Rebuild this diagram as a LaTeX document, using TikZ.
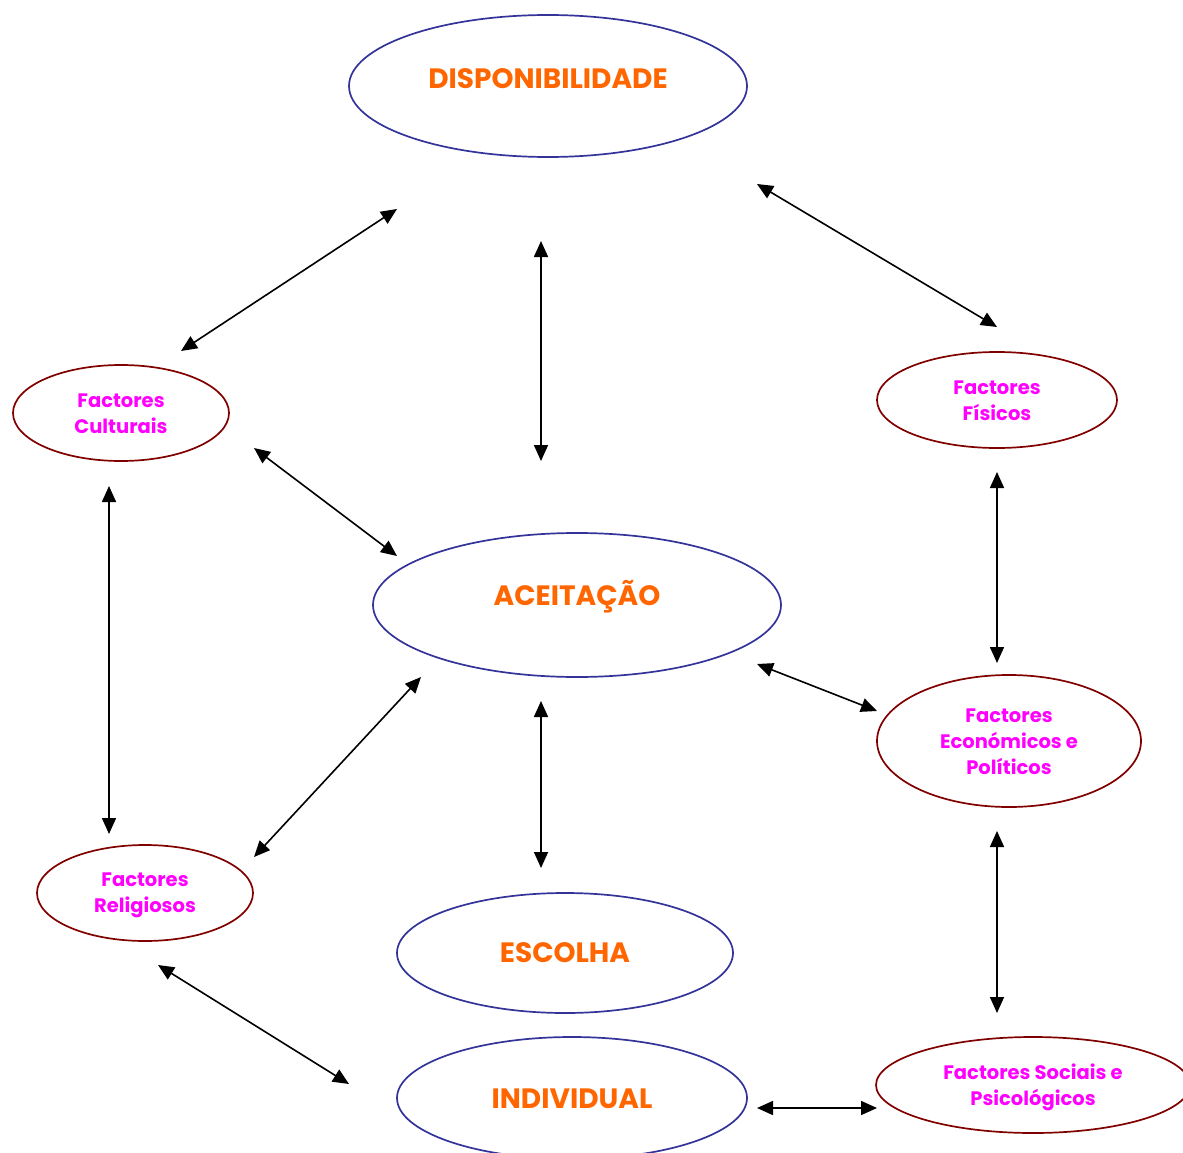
\documentclass[tikz,border=0pt]{standalone}
\usepackage{fontspec}
\setmainfont{Poppins}
\usetikzlibrary{shapes.geometric,arrows.meta}
\definecolor{navyline}{HTML}{333399}
\definecolor{darkredline}{HTML}{800000}
\definecolor{orangetxt}{HTML}{FF6600}
\definecolor{magentatxt}{HTML}{FF00FF}
\begin{document}
\begin{tikzpicture}[x=1pt,y=-1pt,
  mainell/.style={ellipse,draw=navyline,line width=1.7pt,inner sep=0pt},
  factell/.style={ellipse,draw=darkredline,line width=1.7pt,inner sep=0pt},
  bigtxt/.style={text=orangetxt,font=\bfseries\fontsize{28}{32}\selectfont,inner sep=0pt},
  smalltxt/.style={text=magentatxt,font=\bfseries\fontsize{19.5}{26}\selectfont,align=center,inner sep=0pt},
  link/.style={line width=1.6pt,{Triangle[length=16pt,width=14pt]}-{Triangle[length=16pt,width=14pt]}}]
\useasboundingbox (0,0) rectangle (1183,1153);
\clip (0,0) rectangle (1183,1153);
% main ellipses
\node[mainell,minimum width=398pt,minimum height=142pt] (dis) at (548,86) {};
\node[bigtxt] (distxt) at (548,79) {DISPONIBILIDADE};
\node[mainell,minimum width=408pt,minimum height=144pt] (ace) at (577,605) {};
\node[bigtxt] (acetxt) at (577,597) {ACEITAÇÃO};
\node[mainell,minimum width=336pt,minimum height=120pt] (esc) at (565,953) {};
\node[bigtxt] (esctxt) at (565,953) {ESCOLHA};
\node[mainell,minimum width=350pt,minimum height=122pt] (ind) at (572,1098) {};
\node[bigtxt] (indtxt) at (572,1099) {INDIVIDUAL};
% factor ellipses
\node[factell,minimum width=216pt,minimum height=96pt] (cul) at (121,413) {};
\node[smalltxt] (cultxt) at (121,414) {Factores\\Culturais};
\node[factell,minimum width=240pt,minimum height=96pt] (fis) at (997,400) {};
\node[smalltxt] (fistxt) at (997,401) {Factores\\Físicos};
\node[factell,minimum width=264pt,minimum height=132pt] (eco) at (1009,741) {};
\node[smalltxt] (ecotxt) at (1009,742) {Factores\\Económicos e\\Políticos};
\node[factell,minimum width=216pt,minimum height=96pt] (rel) at (145,893) {};
\node[smalltxt] (reltxt) at (145,895) {Factores\\Religiosos};
\node[factell,minimum width=314pt,minimum height=96pt] (soc) at (1033,1085) {};
\node[smalltxt] (soctxt) at (1033,1087) {Factores Sociais e\\Psicológicos};
% arrow end points
\coordinate (a1s) at (397,209); \coordinate (a1e) at (181,351);
\coordinate (a2s) at (541,241); \coordinate (a2e) at (541,461);
\coordinate (a3s) at (757,184); \coordinate (a3e) at (997,327);
\coordinate (a4s) at (254,448); \coordinate (a4e) at (397,556);
\coordinate (a5s) at (109,486); \coordinate (a5e) at (109,834);
\coordinate (a6s) at (997,472); \coordinate (a6e) at (997,663);
\coordinate (a7s) at (757,664); \coordinate (a7e) at (877,711);
\coordinate (a8s) at (421,677); \coordinate (a8e) at (254,857);
\coordinate (a9s) at (541,701); \coordinate (a9e) at (541,868);
\coordinate (a10s) at (997,831); \coordinate (a10e) at (997,1013);
\coordinate (a11s) at (158,965); \coordinate (a11e) at (349,1084);
\coordinate (a12s) at (757,1108); \coordinate (a12e) at (877,1108);
\foreach \i in {1,...,12} \draw[link] (a\i s) -- (a\i e);
\end{tikzpicture}
\end{document}
